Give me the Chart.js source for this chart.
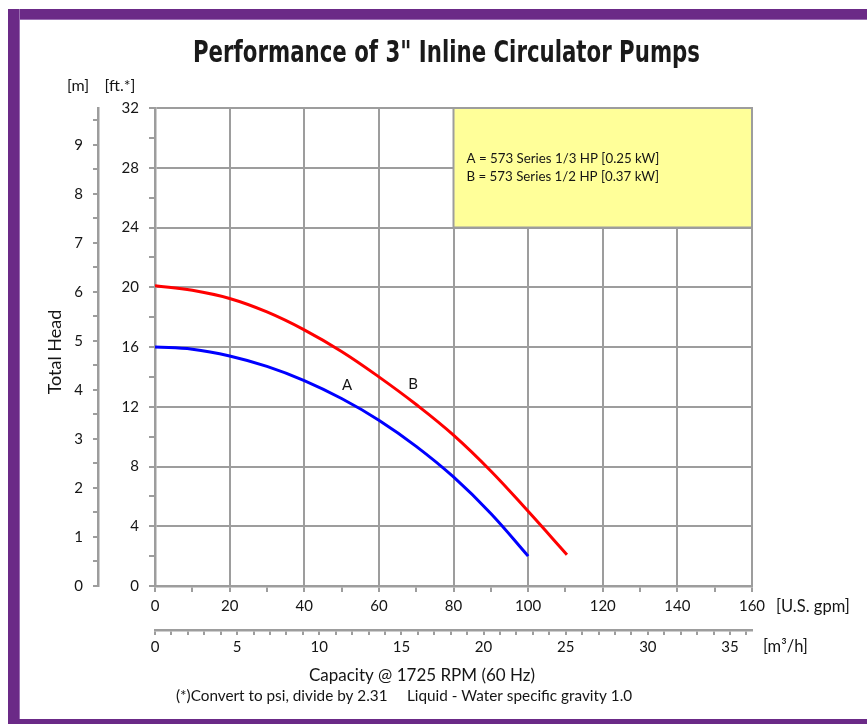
<!DOCTYPE html>
<html><head><meta charset="utf-8">
<script src="https://cdn.jsdelivr.net/npm/chart.js@4"></script>
<style>
html,body{margin:0;padding:0;background:#fff;}
#wrap{position:relative;width:867px;height:724px;overflow:hidden;background:#fff;}
.bar{position:absolute;background:#6B2A87;}
canvas{position:absolute;left:0;top:0;}
</style></head><body>
<div id="wrap">
<div class="bar" style="left:8px;top:9px;width:859px;height:10px;border-bottom:1px solid #9b6fb3"></div>
<div class="bar" style="left:8px;top:9px;width:11px;height:715px;border-right:1px solid #9b6fb3"></div>
<div class="bar" style="left:8px;top:719px;width:859px;height:5px"></div>
<canvas id="c" width="867" height="724"></canvas>
</div>
<script>
// ---- data ----
const flowA = [0, 10, 20, 30, 40, 50, 60, 70, 80, 90, 100];
const headA = [16.0, 15.85, 15.4, 14.7, 13.75, 12.55, 11.1, 9.35, 7.3, 4.85, 2.0];
const flowB = [0, 10, 20, 30, 40, 50, 60, 70, 80, 90, 100, 110.4];
const headB = [20.1, 19.8, 19.25, 18.35, 17.15, 15.7, 14.0, 12.15, 10.1, 7.7, 5.0, 2.1];
const curveLabels = ['A', 'B'];
const curveLabelPos = [[51.5, 13.45], [69.2, 13.5]];
const legendLines = ['A = 573 Series 1/3 HP [0.25 kW]', 'B = 573 Series 1/2 HP [0.37 kW]'];
const legendBoxX = [80, 160];
const legendBoxY = [24, 32];
const gpmRange = [0, 160];
const ftRange = [0, 32];
const FT_PER_M = 3.28084;
const M3H_PER_GPM = 0.227125;

const GRID = '#9d9d9d';
const TXT = '#151515';
const FONT = 'Lato, "Open Sans", sans-serif';

const annot = {
  id: 'annot',
  beforeDatasetsDraw(chart) {
    const {ctx} = chart; const xs = chart.scales.x, ys = chart.scales.y;
    const l = xs.getPixelForValue(legendBoxX[0]), r = xs.getPixelForValue(legendBoxX[1]);
    const t = ys.getPixelForValue(legendBoxY[1]), b = ys.getPixelForValue(legendBoxY[0]);
    ctx.save();
    ctx.fillStyle = '#FFFF99';
    ctx.fillRect(l, t, r - l, b - t);
    ctx.strokeStyle = GRID; ctx.lineWidth = 2;
    ctx.strokeRect(l, t, r - l, b - t);
    ctx.fillStyle = TXT; ctx.font = '13.3px ' + FONT; ctx.textBaseline = 'middle'; ctx.textAlign = 'left';
    ctx.fillText(legendLines[0], l + 13, t + 51);
    ctx.fillText(legendLines[1], l + 13, t + 69);
    ctx.restore();
  },
  afterDraw(chart) {
    const {ctx} = chart; const xs = chart.scales.x, ys = chart.scales.y;
    ctx.save();
    ctx.fillStyle = TXT; ctx.textBaseline = 'middle';
    ctx.font = '15px ' + FONT; ctx.textAlign = 'center';
    curveLabels.forEach((s, i) => ctx.fillText(s, xs.getPixelForValue(curveLabelPos[i][0]), ys.getPixelForValue(curveLabelPos[i][1])));
    ctx.font = '16px ' + FONT;
    ctx.fillText('[m]', 78, 86);
    ctx.fillText('[ft.*]', 120, 86);
    ctx.textAlign = 'left';
    ctx.font = '16.5px ' + FONT;
    ctx.fillText('[U.S. gpm]', 776, 607);
    ctx.fillText('[m\u00B3/h]', 763, 647);
    ctx.font = '15.3px ' + FONT;
    ctx.fillText('(*)Convert to psi, divide by 2.31', 176, 696);
    ctx.fillText('Liquid - Water specific gravity 1.0', 407, 696);
    ctx.font = '17px ' + FONT; ctx.textAlign = 'center';
    ctx.fillText('Capacity @ 1725 RPM (60 Hz)', 422, 676);
    ctx.save(); ctx.translate(55, 352); ctx.rotate(-Math.PI / 2);
    ctx.font = '18px ' + FONT;
    ctx.fillText('Total Head', 0, 0); ctx.restore();
    const title = 'Performance of 3" Inline Circulator Pumps';
    ctx.font = 'bold 30px "Liberation Sans Narrow", "DejaVu Sans Condensed", sans-serif';
    const w = ctx.measureText(title).width;
    const sx = 507 / w;
    ctx.save(); ctx.translate(446.5, 62); ctx.scale(sx, 1);
    ctx.textBaseline = 'alphabetic'; ctx.textAlign = 'center'; ctx.fillStyle = '#1a1a1a';
    ctx.fillText(title, 0, 0); ctx.restore();
    ctx.restore();
  }
};

const tickFont = {family: 'Lato, "Open Sans", sans-serif', size: 15};
const minorColor = (ok) => ok ? GRID : 'rgba(0,0,0,0)';

new Chart(document.getElementById('c'), {
  type: 'line',
  data: {
    datasets: [
      {label: 'A', data: flowA.map((f, i) => ({x: f, y: headA[i]})), borderColor: '#0000FF', borderWidth: 3, pointRadius: 0, tension: 0.4, fill: false, xAxisID: 'x', yAxisID: 'y'},
      {label: 'B', data: flowB.map((f, i) => ({x: f, y: headB[i]})), borderColor: '#FF0000', borderWidth: 3, pointRadius: 0, tension: 0.4, fill: false, xAxisID: 'x', yAxisID: 'y'}
    ]
  },
  options: {
    responsive: false, animation: false,
    layout: {padding: {top: 108, left: 49, right: 115, bottom: 64}},
    plugins: {legend: {display: false}, tooltip: {enabled: false}, title: {display: false}},
    scales: {
      x: {
        type: 'linear', position: 'bottom', weight: 0, min: gpmRange[0], max: gpmRange[1],
        ticks: {stepSize: 10, autoSkip: false, maxRotation: 0, includeBounds: false, padding: 5, color: TXT, font: tickFont,
          callback: v => (v % 20 === 0 ? String(v) : '')},
        grid: {color: c => minorColor(c.tick && c.tick.value % 20 === 0), tickColor: GRID, lineWidth: 2, tickLength: 6},
        border: {color: GRID, width: 2.5},
        afterFit: s => { s.height = 44; s.paddingLeft = 0; s.paddingRight = 0; }
      },
      x2: {
        type: 'linear', position: 'bottom', weight: 1, min: gpmRange[0] * M3H_PER_GPM, max: gpmRange[1] * M3H_PER_GPM,
        ticks: {stepSize: 1, autoSkip: false, maxRotation: 0, includeBounds: false, padding: 3, color: TXT, font: tickFont,
          callback: v => (v % 5 === 0 ? String(v) : '')},
        grid: {drawOnChartArea: false, tickColor: GRID, lineWidth: 2, tickLength: 5},
        border: {color: GRID, width: 2.5},
        afterFit: s => { s.height = 30; s.paddingLeft = 0; s.paddingRight = 0; }
      },
      y: {
        type: 'linear', position: 'left', weight: 0, min: ftRange[0], max: ftRange[1],
        ticks: {stepSize: 2, autoSkip: false, includeBounds: false, padding: 10, color: TXT, font: tickFont,
          callback: v => (v % 4 === 0 ? String(v) : '')},
        grid: {color: c => minorColor(c.tick && c.tick.value % 4 === 0), tickColor: GRID, lineWidth: 2, tickLength: 6},
        border: {color: GRID, width: 2.5},
        afterFit: s => { s.width = 57; s.paddingTop = 0; s.paddingBottom = 0; }
      },
      y2: {
        type: 'linear', position: 'left', weight: 1, min: ftRange[0] / FT_PER_M, max: ftRange[1] / FT_PER_M,
        ticks: {stepSize: 0.5, autoSkip: false, includeBounds: false, padding: 10, color: TXT, font: tickFont,
          callback: v => (Number.isInteger(v) ? String(v) : '')},
        grid: {drawOnChartArea: false, tickColor: GRID, lineWidth: 2, tickLength: 5},
        border: {color: GRID, width: 2.5},
        afterFit: s => { s.width = 49; s.paddingTop = 0; s.paddingBottom = 0; }
      }
    }
  },
  plugins: [annot]
});
</script>
</body></html>
